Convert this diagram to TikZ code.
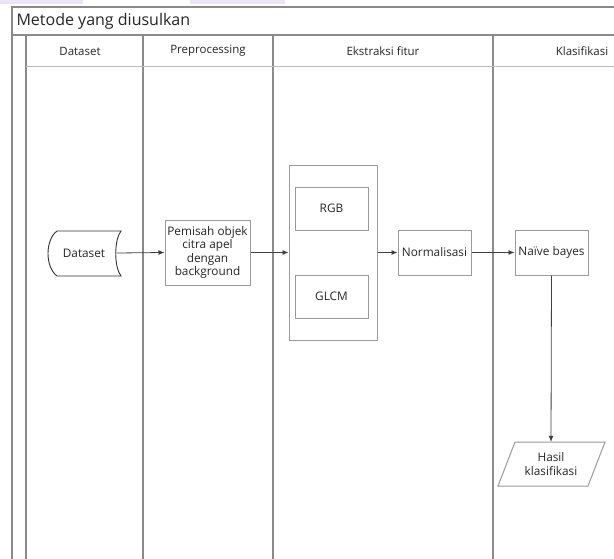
\documentclass[tikz,border=0pt]{standalone}
\usepackage{fontspec}
\setmainfont{Open Sans}
\usetikzlibrary{arrows.meta}
\definecolor{frame}{HTML}{8A8A8A}
\definecolor{boxc}{HTML}{9A9A9A}
\definecolor{lav}{HTML}{EDE4FA}
\tikzset{
  x=1pt,y=-1pt,
  lane/.style={draw=frame,line width=1.4pt},
  thin lane/.style={draw=frame!60,line width=0.8pt},
  hdr/.style={font=\fontsize{11.5}{13}\selectfont,text=black!85},
  procbox/.style={draw=boxc,line width=1pt,font=\fontsize{11.8}{13.2}\selectfont,text=black!85,align=center,inner sep=0pt},
  flow/.style={draw=black!75,line width=0.8pt,-{Latex[length=6pt,width=5pt]}},
}
\begin{document}
\begin{tikzpicture}
\useasboundingbox (0,0) rectangle (614,558);
\fill[white] (0,0) rectangle (614,558);
% cropped highlight remnants at top
\fill[lav] (0,0) rectangle (83,4);
\fill[lav] (190,0) rectangle (285,4);
% outer frame
\draw[lane] (616,7) -- (12,7) -- (12,560);
\draw[lane] (12,35) -- (616,35);
\node[anchor=west,font=\fontsize{16}{18}\selectfont,text=black!85] (title) at (13,21) {Metode yang diusulkan};
% lanes
\draw[lane] (26,35) -- (26,560);
\draw[lane] (143,35) -- (143,560);
\draw[lane] (273,35) -- (273,560);
\draw[lane] (493,35) -- (493,560);
\draw[thin lane] (26,66) -- (616,66);
\node[hdr] (h1) at (80,51) {Dataset};
\node[hdr] (h2) at (208,51) {Preprocessing};
\node[hdr] (h3) at (383,51) {Ekstraksi fitur};
\node[hdr] (h4) at (582,51) {Klasifikasi};
% dataset stored-data shape
\node[font=\fontsize{11.8}{13.2}\selectfont,text=black!85,minimum width=73pt,minimum height=45pt,inner sep=0pt] (dataset) at (84,253) {Dataset};
\coordinate (dsout) at (116.5,253);
\draw[draw=black!80,line width=0.9pt]
  (57,231) -- (121,231) .. controls (114,240) and (114,267) .. (121,276)
  -- (57,276) .. controls (45,267) and (45,240) .. (57,231) -- cycle;
% preprocessing
\node[procbox,minimum width=85pt,minimum height=65pt] (pemisah) at (207.5,252.5) {Pemisah objek\\citra apel\\dengan\\background};
% extraction container
\node[draw=boxc,line width=1pt,minimum width=88pt,minimum height=175pt,inner sep=0pt] (ekstr) at (333,252.5) {};
\node[procbox,minimum width=73pt,minimum height=43pt] (rgb) at (331.5,208.5) {RGB};
\node[procbox,minimum width=73pt,minimum height=43pt] (glcm) at (331.5,296.5) {GLCM};
\node[procbox,minimum width=73pt,minimum height=45pt] (norm) at (434.5,252.5) {Normalisasi};
\node[procbox,minimum width=73pt,minimum height=45pt] (nb) at (551.5,252.5) {Naïve bayes};
% output parallelogram
\node[font=\fontsize{11.8}{13.2}\selectfont,text=black!85,align=center,minimum width=90pt,minimum height=44pt,inner sep=0pt] (hasil) at (551,464) {Hasil\\klasifikasi};
\draw[draw=boxc,line width=1pt] (515,442) -- (605,442) -- (588,486) -- (498,486) -- cycle;
% connectors
\draw[flow] (dsout) -- (pemisah.west);
\draw[flow] (pemisah.east) -- (ekstr.west);
\draw[flow] (ekstr.east) -- (norm.west);
\draw[flow] (norm.east) -- (nb.west);
\draw[flow] (nb.south) -- (hasil.north);
\end{tikzpicture}
\end{document}
